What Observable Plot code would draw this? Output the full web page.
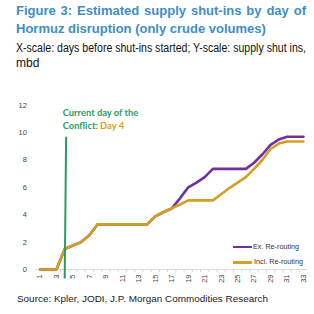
<!DOCTYPE html>
<html><head><meta charset="utf-8">
<script src="https://cdn.jsdelivr.net/npm/d3@7"></script>
<script src="https://cdn.jsdelivr.net/npm/@observablehq/plot@0.6"></script>
<style>
html,body{margin:0;padding:0;background:#fff;width:314px;height:314px;overflow:hidden;position:relative;font-family:"Liberation Sans",Arial,sans-serif;}
.t{position:absolute;left:16px;width:290px;color:#3d8ec9;font-weight:bold;font-size:13px;white-space:nowrap;}
.j{text-align:justify;text-align-last:justify;white-space:normal;}
.fit{position:absolute;white-space:nowrap;transform-origin:0 50%;display:inline-block;}
.s{left:16px;color:#111;font-size:12px;line-height:15px;}
#chart{position:absolute;left:0;top:80px;}
.src{left:17px;top:293px;font-size:9.5px;color:#222;}
.lg{position:absolute;left:233px;width:19px;height:2.5px;}
.lgt{font-size:8px;color:#333;line-height:10px;}
</style></head>
<body>
<div class="t j" style="top:2px;line-height:17px;">Figure 3: Estimated supply shut-ins by day of</div>
<div class="t" style="top:20px;line-height:17px;">Hormuz disruption (only crude volumes)</div>
<span class="fit s" data-w="290" style="top:41px;">X-scale: days before shut-ins started; Y-scale: supply shut ins,</span>
<span class="fit s" style="top:56px;">mbd</span>
<div id="chart"></div>
<div class="lg" id="sw1" style="top:245.5px;"></div>
<div class="lg" id="sw2" style="top:261px;"></div>
<span class="fit lgt" id="l1" data-w="46" style="left:252.5px;top:241.5px;"></span>
<span class="fit lgt" id="l2" data-w="49" style="left:254px;top:257px;"></span>
<span class="fit src" data-w="251">Source: Kpler, JODI, J.P. Morgan Commodities Research</span>
<script>
const days = [1,2,3,4,5,6,7,8,9,10,11,12,13,14,15,16,17,18,19,20,21,22,23,24,25,26,27,28,29,30,31,32,33];
const exRerouting = [0,0,0,1.5,1.75,2.0,2.5,3.3,3.3,3.3,3.3,3.3,3.3,3.3,3.88,4.2,4.46,5.2,6.0,6.35,6.75,7.35,7.35,7.35,7.35,7.35,7.8,8.4,9.1,9.5,9.7,9.7,9.7];
const inclRerouting = [0,0,0,1.5,1.75,2.0,2.5,3.3,3.3,3.3,3.3,3.3,3.3,3.3,3.88,4.2,4.46,4.75,5.05,5.05,5.05,5.05,5.5,5.95,6.35,6.75,7.35,8.0,8.8,9.2,9.35,9.35,9.35];
const seriesNames = ["Ex. Re-routing","Incl. Re-routing"];
const seriesColors = ["#7030a0","#d4a020"];
const xTicks = [1,3,5,7,9,11,13,15,17,19,21,23,25,27,29,31,33];
const yTicks = [0,2,4,6,8,10,12];
const currentDay = 4;
const annotLine1 = "Current day of the";
const annotLine2a = "Conflict:";
const annotLine2b = "Day 4";
const green = "#2e9c62";
const annotFont = "bold 9.5px Lato";

const ctx = document.createElement("canvas").getContext("2d");
ctx.font = annotFont;
const l1w = ctx.measureText(annotLine1).width;
const annotScale = 76 / l1w;
const annotSize = 9.5 * annotScale;
ctx.font = `bold ${annotSize}px Lato`;
const day4dx = -2 + ctx.measureText(annotLine2a + " ").width;

const rows = [];
days.forEach((d,i)=>{
  rows.push({day:d, value:exRerouting[i], series:seriesNames[0]});
  rows.push({day:d, value:inclRerouting[i], series:seriesNames[1]});
});
const boundaries = days.slice(0,-1).map(d=>d+0.5);

const chart = Plot.plot({
  width:314, height:210,
  marginLeft:35.4, marginRight:6.9, marginTop:22, marginBottom:21,
  style:{fontFamily:"Liberation Sans, Arial, sans-serif", fontSize:"7.5px", color:"#444", background:"transparent"},
  x:{domain:[0.5,33.5], ticks:xTicks, tickFormat:d=>String(d), tickRotate:-90, tickSize:0, tickPadding:5, label:null},
  y:{domain:[0,12.2], ticks:yTicks, tickSize:0, tickPadding:9, label:null},
  color:{domain:seriesNames, range:seriesColors},
  marks:[
    Plot.ruleY([0],{stroke:"#d9d9d9", strokeWidth:1}),
    Plot.ruleX(boundaries,{y1:0, y2:-0.25, stroke:"#d9d9d9", strokeWidth:1}),
    Plot.line(rows.filter(r=>r.series===seriesNames[0]),{x:"day", y:"value", stroke:"series", strokeWidth:2.6}),
    Plot.line(rows.filter(r=>r.series===seriesNames[1]),{x:"day", y:"value", stroke:"series", strokeWidth:2.6}),
    Plot.link([currentDay],{x1:d=>d+0.17, y1:9.7, x2:d=>d, y2:-0.65, stroke:green, strokeWidth:2}),
    Plot.text([annotLine1],{x:currentDay, y:11.4, text:d=>d, dx:-2, textAnchor:"start", fill:green, fontWeight:"bold", fontSize:annotSize, fontFamily:"Lato, sans-serif"}),
    Plot.text([annotLine2a],{x:currentDay, y:10.47, text:d=>d, dx:-2, textAnchor:"start", fill:green, fontWeight:"bold", fontSize:annotSize, fontFamily:"Lato, sans-serif"}),
    Plot.text([annotLine2b],{x:currentDay, y:10.47, text:d=>d, dx:day4dx, textAnchor:"start", fill:seriesColors[1], fontWeight:"bold", fontSize:annotSize, fontFamily:"Lato, sans-serif"})
  ]
});
document.getElementById("chart").appendChild(chart);
document.getElementById("sw1").style.background = seriesColors[0];
document.getElementById("sw2").style.background = seriesColors[1];
document.getElementById("l1").textContent = seriesNames[0];
document.getElementById("l2").textContent = seriesNames[1];
document.querySelectorAll(".fit[data-w]").forEach(el=>{
  const w = el.getBoundingClientRect().width;
  const target = +el.dataset.w;
  if (w > 0) el.style.transform = `scaleX(${target / w})`;
});
</script>
</body></html>
